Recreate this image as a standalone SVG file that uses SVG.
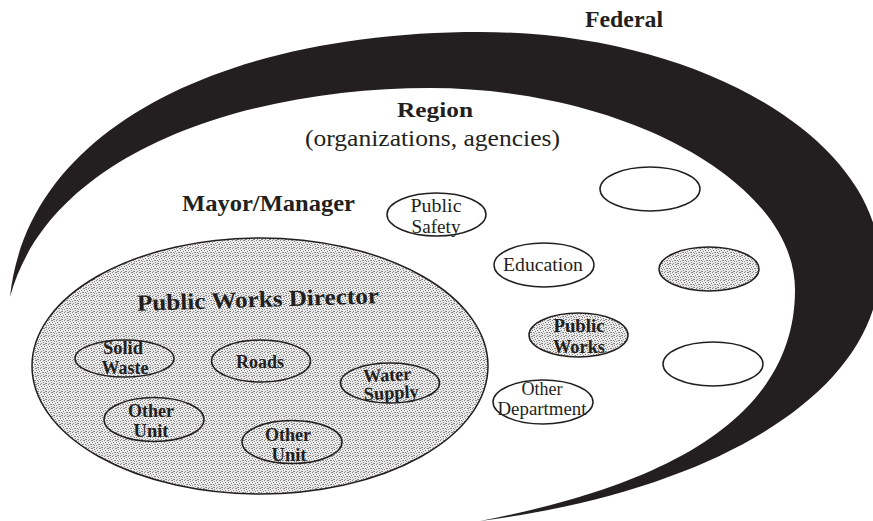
<svg xmlns="http://www.w3.org/2000/svg" width="873" height="521" viewBox="0 0 873 521">
  <defs>
    <!-- fine grey stipple used for the shaded ellipses -->
    <pattern id="stipple" width="8" height="8" patternUnits="userSpaceOnUse">
      <rect width="8" height="8" fill="#eaeaea"/>
      <path fill="#858585" d="M0 0h1v1H0zM3 0h2v1H3zM6 1h1v1H6zM1 2h1v1H1zM4 2h1v1H4zM7 3h1v1H7zM2 4h2v1H2zM5 4h1v1H5zM0 5h1v1H0zM6 5h1v1H6zM3 6h1v1H3zM1 7h1v1H1zM5 7h2v1H5z"/>
    </pattern>
    <style>
      .t { font-family: "Liberation Serif", "Times New Roman", serif; fill: #231f20; }
      .b { font-weight: bold; }
      .mid { text-anchor: middle; }
      .plain { fill: #ffffff; stroke: #231f20; stroke-width: 1.5; }
      .shade { fill: url(#stipple); stroke: #231f20; stroke-width: 1.5; }
    </style>
  </defs>

  <rect width="873" height="521" fill="#ffffff"/>

  <!-- Federal: black crescent around the region -->
  <g id="federal">
    <path fill="#231f20" d="M10,297 C28,125 230,32 480,32 C700,32 880,140 880,265 C880,390 720,490 480,521 C640,490 795,430 795,290 C795,180 620,88 430,88 C250,88 50,150 10,297 Z"/>
    <text class="t b" x="585" y="27" font-size="23" textLength="78" lengthAdjust="spacingAndGlyphs">Federal</text>
  </g>

  <!-- Region -->
  <g id="region">
    <text class="t b" x="397" y="117" font-size="22" textLength="76" lengthAdjust="spacingAndGlyphs">Region</text>
    <text class="t" x="305" y="146" font-size="23.5" textLength="255" lengthAdjust="spacingAndGlyphs">(organizations, agencies)</text>
  </g>

  <!-- Mayor/Manager -->
  <g id="mayor-manager">
    <text class="t b" x="182" y="211" font-size="22.5" textLength="173" lengthAdjust="spacingAndGlyphs">Mayor/Manager</text>
  </g>

  <!-- Public Works Director and its units -->
  <g id="public-works-director">
    <ellipse class="shade" cx="260" cy="366" rx="228" ry="128"/>
    <text class="t b" x="137" y="307" font-size="23" textLength="242" lengthAdjust="spacingAndGlyphs" transform="rotate(-1.8 258 300)">Public Works Director</text>
  </g>

  <g id="solid-waste">
    <ellipse class="shade" cx="124.5" cy="358.5" rx="49.5" ry="18.5"/>
    <text class="t b mid" x="123" y="354" font-size="18.5" textLength="40" lengthAdjust="spacingAndGlyphs">Solid</text>
    <text class="t b mid" x="125" y="374" font-size="18.5" textLength="47" lengthAdjust="spacingAndGlyphs">Waste</text>
  </g>

  <g id="roads">
    <ellipse class="shade" cx="261" cy="361" rx="49.5" ry="21"/>
    <text class="t b mid" x="260" y="368" font-size="18.5" textLength="48" lengthAdjust="spacingAndGlyphs">Roads</text>
  </g>

  <g id="water-supply">
    <ellipse class="shade" cx="390" cy="383" rx="49.5" ry="20"/>
    <g transform="rotate(-3 390 389)">
      <text class="t b mid" x="388" y="381" font-size="18.5" textLength="48" lengthAdjust="spacingAndGlyphs">Water</text>
      <text class="t b mid" x="391" y="399" font-size="18.5" textLength="55" lengthAdjust="spacingAndGlyphs">Supply</text>
    </g>
  </g>

  <g id="other-unit-1">
    <ellipse class="shade" cx="154" cy="419.5" rx="50" ry="22"/>
    <text class="t b mid" x="151" y="417" font-size="18.5" textLength="46" lengthAdjust="spacingAndGlyphs">Other</text>
    <text class="t b mid" x="151" y="437" font-size="18.5" textLength="35" lengthAdjust="spacingAndGlyphs">Unit</text>
  </g>

  <g id="other-unit-2">
    <ellipse class="shade" cx="292" cy="442" rx="50" ry="21.5"/>
    <text class="t b mid" x="288" y="441" font-size="18.5" textLength="46" lengthAdjust="spacingAndGlyphs">Other</text>
    <text class="t b mid" x="289" y="461" font-size="18.5" textLength="35" lengthAdjust="spacingAndGlyphs">Unit</text>
  </g>

  <!-- Other city departments -->
  <g id="public-safety">
    <ellipse class="plain" cx="436.5" cy="214.5" rx="49.5" ry="21.5"/>
    <text class="t mid" x="436" y="212" font-size="18.5" textLength="51" lengthAdjust="spacingAndGlyphs">Public</text>
    <text class="t mid" x="436" y="233" font-size="18.5" textLength="49" lengthAdjust="spacingAndGlyphs">Safety</text>
  </g>

  <g id="education">
    <ellipse class="plain" cx="544" cy="265" rx="50" ry="22"/>
    <text class="t mid" x="543" y="271" font-size="18.5" textLength="80" lengthAdjust="spacingAndGlyphs">Education</text>
  </g>

  <g id="public-works">
    <ellipse class="shade" cx="578.5" cy="335" rx="49.5" ry="22"/>
    <text class="t b mid" x="579" y="332" font-size="18.5" textLength="51" lengthAdjust="spacingAndGlyphs">Public</text>
    <text class="t b mid" x="579" y="353" font-size="18.5" textLength="52" lengthAdjust="spacingAndGlyphs">Works</text>
  </g>

  <g id="other-department">
    <ellipse class="plain" cx="543" cy="402" rx="50" ry="22"/>
    <text class="t mid" x="542" y="395" font-size="18.5" textLength="41" lengthAdjust="spacingAndGlyphs">Other</text>
    <text class="t mid" x="542" y="415" font-size="18.5" textLength="89" lengthAdjust="spacingAndGlyphs">Department</text>
  </g>

  <g id="unit-blank-1">
    <ellipse class="plain" cx="650" cy="189" rx="50" ry="22"/>
  </g>

  <g id="unit-shaded">
    <ellipse class="shade" cx="709" cy="269" rx="50" ry="22"/>
  </g>

  <g id="unit-blank-2">
    <ellipse class="plain" cx="713" cy="364" rx="50" ry="22"/>
  </g>
</svg>
